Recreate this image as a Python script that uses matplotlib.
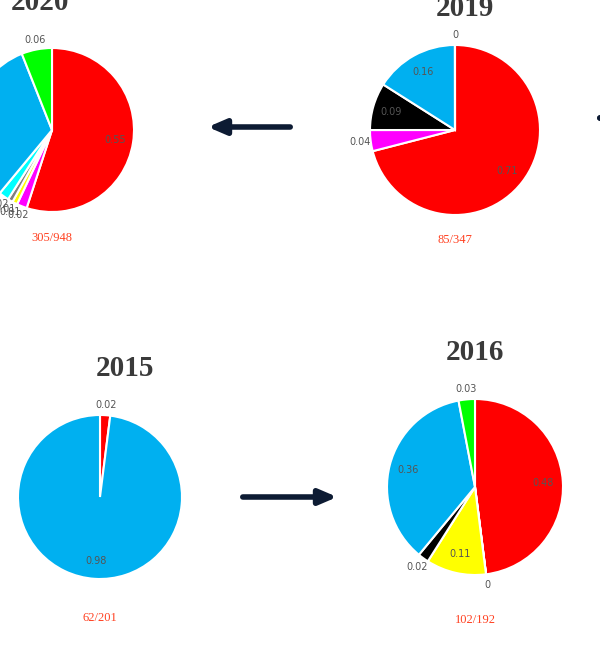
import numpy as np
import matplotlib
matplotlib.use('Agg')
import matplotlib.pyplot as plt

W, H = 600, 648
COL = {'red': '#ff0000', 'mag': '#ff00ff', 'yel': '#ffff00', 'gray': '#808080',
       'cyan': '#00ffff', 'blue': '#00b0f0', 'green': '#00ff00', 'blk': '#000000'}

years = ['2020', '2019', '2015', '2016']
counts = ['305/948', '85/347', '62/201', '102/192']
vals_2020 = [0.55, 0.02, 0.01, 0.01, 0.02, 0.33, 0.06]
cols_2020 = ['red', 'mag', 'yel', 'gray', 'cyan', 'blue', 'green']
vals_2019 = [0.71, 0.04, 0.09, 0.16, 0.0]
cols_2019 = ['red', 'mag', 'blk', 'blue', 'green']
vals_2015 = [0.02, 0.98]
cols_2015 = ['red', 'blue']
vals_2016 = [0.48, 0.0, 0.11, 0.02, 0.36, 0.03]
cols_2016 = ['red', 'mag', 'yel', 'blk', 'blue', 'green']

fig = plt.figure(figsize=(6, 6.48), dpi=100)

def pie(cx, cy, r, vals, cols, title, count, ty, cty, tx=None):
    s = 1.5
    ax = fig.add_axes([(cx - s*r)/W, 1 - (cy + s*r)/H, 2*s*r/W, 2*s*r/H])
    wedges, _ = ax.pie([max(v, 1e-4) for v in vals], colors=[COL[c] for c in cols],
                       startangle=90, counterclock=False, radius=1,
                       wedgeprops=dict(edgecolor='white', linewidth=1.5))
    ax.set_xlim(-s, s); ax.set_ylim(-s, s); ax.axis('off')
    for w, v in zip(wedges, vals):
        a = np.deg2rad((w.theta1 + w.theta2)/2)
        d = 0.78 if v >= 0.09 else 1.12
        lab = '0' if v == 0 else f'{v:.2f}'
        ax.text(d*np.cos(a), d*np.sin(a), lab, ha='center', va='center',
                fontsize=7, color='#555555')
    fig.text((tx if tx else cx)/W, 1 - ty/H, title, ha='center', va='center',
             family='Liberation Serif', fontweight='bold', fontsize=21, color='#3a3a3a')
    fig.text(cx/W, 1 - cty/H, count, ha='center', va='center',
             family='Liberation Serif', fontsize=9, color='#ff4020')

pie(52, 130, 82, vals_2020, cols_2020, years[0], counts[0], 2, 238, tx=40)
pie(455, 130, 85, vals_2019, cols_2019, years[1], counts[1], 8, 240, tx=465)
pie(100, 497, 82, vals_2015, cols_2015, years[2], counts[2], 368, 618, tx=125)
pie(475, 487, 88, vals_2016, cols_2016, years[3], counts[3], 352, 620)

def arrow(x0, y0, x1, y1):
    fig.add_artist(matplotlib.patches.FancyArrowPatch(
        (x0/W, 1 - y0/H), (x1/W, 1 - y1/H), transform=fig.transFigure,
        arrowstyle='-|>,head_length=7,head_width=3', lw=4, color='#0d1b33',
        mutation_scale=1.5))

arrow(293, 127, 205, 127)
arrow(240, 497, 340, 497)
arrow(612, 118, 590, 118)

fig.savefig('out.png', dpi=100)
